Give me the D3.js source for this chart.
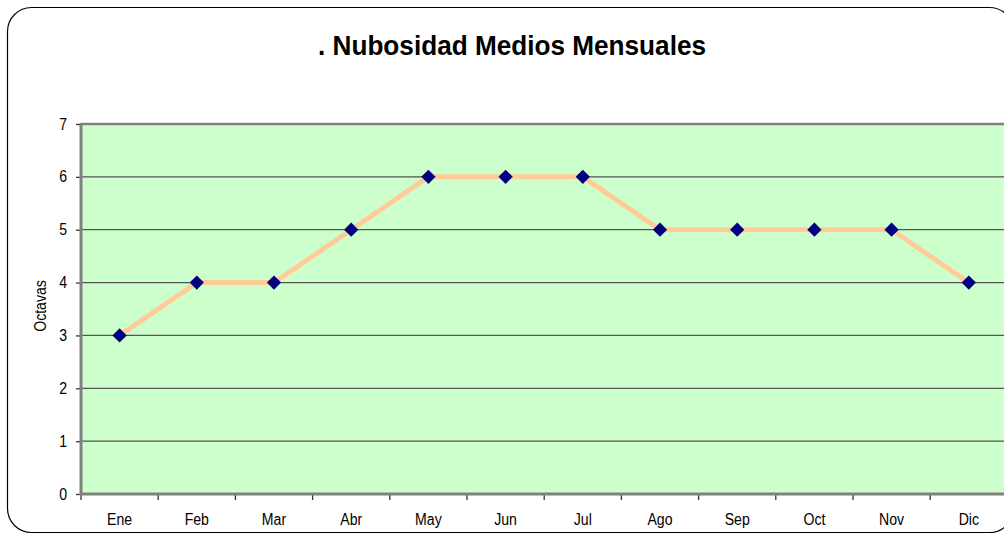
<!DOCTYPE html>
<html>
<head>
<meta charset="utf-8">
<script src="https://cdn.jsdelivr.net/npm/d3@7"></script>
<style>
  body { margin: 0; background: #fff; }
  svg { display: block; font-family: "Liberation Sans", Arial, sans-serif; }
</style>
</head>
<body>
<div id="chart"></div>
<script>
const months = ["Ene", "Feb", "Mar", "Abr", "May", "Jun", "Jul", "Ago", "Sep", "Oct", "Nov", "Dic"];
const octavas = [3, 4, 4, 5, 6, 6, 6, 5, 5, 5, 5, 4];
const yTicks = [0, 1, 2, 3, 4, 5, 6, 7];

const width = 1004, height = 535;
const plot = { left: 81, top: 124, bottom: 494, right: 81 + 12 * 77.2 };

const svg = d3.select('#chart').append('svg')
    .attr('width', width)
    .attr('height', height);

// squeeze text horizontally a bit, the picture uses a narrow rendering
const narrow = sel => sel.each(function() {
    const w = this.getComputedTextLength();
    d3.select(this).attr('textLength', w * 0.88).attr('lengthAdjust', 'spacingAndGlyphs');
});

// outer frame, runs off the right edge like the picture
svg.append('rect')
    .attr('x', 7.5).attr('y', 7.5)
    .attr('width', 1006).attr('height', 525)
    .attr('rx', 24).attr('ry', 24)
    .attr('fill', '#fff')
    .attr('stroke', '#000')
    .attr('stroke-width', 1.2);

svg.append('text')
    .attr('x', 512).attr('y', 55)
    .attr('text-anchor', 'middle')
    .attr('font-size', 28.5)
    .attr('font-weight', 'bold')
    .attr('textLength', 388)
    .attr('lengthAdjust', 'spacingAndGlyphs')
    .text('. Nubosidad Medios Mensuales');

const x = d3.scaleBand()
    .domain(months)
    .range([plot.left, plot.right])
    .padding(0);

const y = d3.scaleLinear()
    .domain([0, 7])
    .range([plot.bottom, plot.top]);

// plot background
svg.append('rect')
    .attr('x', plot.left).attr('y', plot.top)
    .attr('width', plot.right - plot.left)
    .attr('height', plot.bottom - plot.top)
    .attr('fill', '#ccffcc');

// gridlines
svg.append('g').selectAll('line')
    .data(yTicks.slice(1, -1))
    .enter().append('line')
    .attr('x1', plot.left).attr('x2', plot.right)
    .attr('y1', d => y(d)).attr('y2', d => y(d))
    .attr('stroke', '#555')
    .attr('stroke-width', 1.3);

// top border
svg.append('line')
    .attr('x1', plot.left).attr('x2', plot.right)
    .attr('y1', y(7)).attr('y2', y(7))
    .attr('stroke', '#808080')
    .attr('stroke-width', 2.5);

// y axis
const yAxis = d3.axisLeft(y).tickValues(yTicks).tickFormat(d3.format('d')).tickSize(5).tickPadding(9);
const yg = svg.append('g')
    .attr('transform', `translate(${plot.left},0)`)
    .call(yAxis);
yg.select('.domain').remove();
yg.selectAll('.tick line').attr('stroke', '#333').attr('stroke-width', 1.3);
yg.selectAll('.tick text').attr('font-size', 16).attr('fill', '#000')
    .attr('font-family', '"Liberation Sans", Arial, sans-serif')
    .call(narrow);

svg.append('line')
    .attr('x1', plot.left).attr('x2', plot.left)
    .attr('y1', plot.top - 1).attr('y2', plot.bottom + 1)
    .attr('stroke', '#808080')
    .attr('stroke-width', 3);

// x axis: labels at centers, ticks between categories
const xg = svg.append('g')
    .attr('transform', `translate(0,${plot.bottom})`);
xg.selectAll('line.tick')
    .data(months.concat(['end']))
    .enter().append('line')
    .attr('class', 'tick')
    .attr('x1', d => d === 'end' ? plot.right : x(d))
    .attr('x2', d => d === 'end' ? plot.right : x(d))
    .attr('y1', 0).attr('y2', 6)
    .attr('stroke', '#333')
    .attr('stroke-width', 1.3);
xg.selectAll('text')
    .data(months)
    .enter().append('text')
    .attr('x', d => x(d) + x.bandwidth() / 2)
    .attr('y', 31)
    .attr('text-anchor', 'middle')
    .attr('font-size', 16)
    .text(d => d)
    .call(narrow);

svg.append('line')
    .attr('x1', plot.left - 1).attr('x2', plot.right)
    .attr('y1', plot.bottom).attr('y2', plot.bottom)
    .attr('stroke', '#808080')
    .attr('stroke-width', 3);

// y title
svg.append('text')
    .attr('transform', 'translate(46,306) rotate(-90)')
    .attr('text-anchor', 'middle')
    .attr('font-size', 16)
    .text('Octavas')
    .call(narrow);

// series
const data = months.map((m, i) => ({ name: m, value: octavas[i] }));

const line = d3.line()
    .x(d => x(d.name) + x.bandwidth() / 2)
    .y(d => y(d.value));

svg.append('path')
    .datum(data)
    .attr('d', line)
    .attr('fill', 'none')
    .attr('stroke', '#ffcc99')
    .attr('stroke-width', 5);

svg.append('g').selectAll('path')
    .data(data)
    .enter().append('path')
    .attr('d', d3.symbol().type(d3.symbolDiamond2).size(130))
    .attr('transform', d => `translate(${x(d.name) + x.bandwidth() / 2},${y(d.value)})`)
    .attr('fill', '#000080');
</script>
</body>
</html>
